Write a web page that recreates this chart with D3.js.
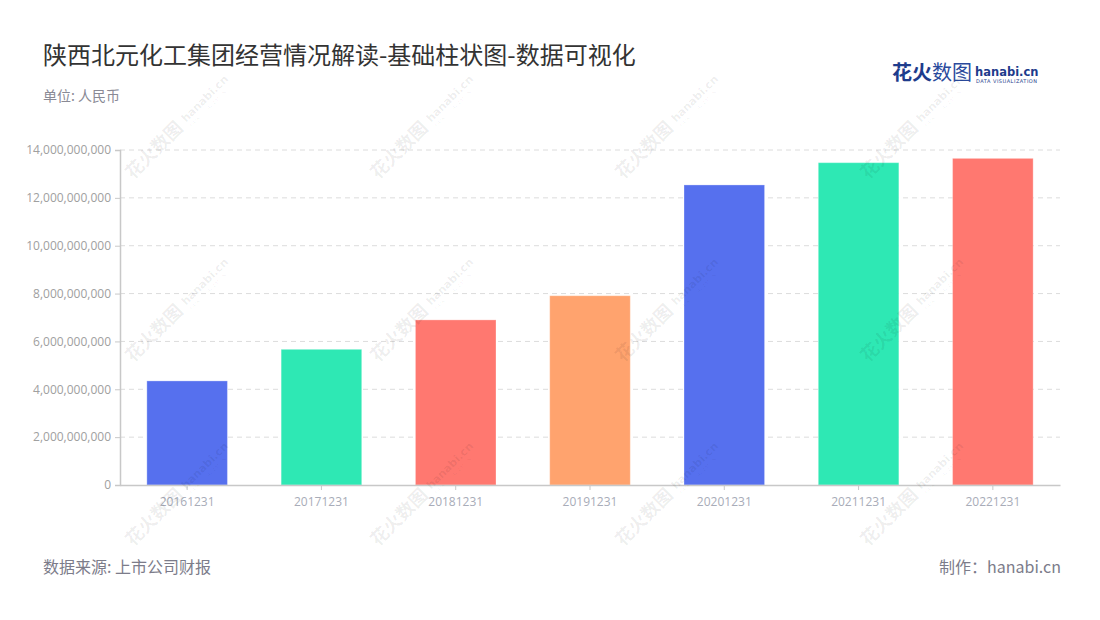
<!DOCTYPE html>
<html><head><meta charset="utf-8">
<script src="https://cdn.jsdelivr.net/npm/d3@7"></script>
<style>
html,body{margin:0;padding:0;background:#fff;}
svg{display:block;font-family:"Noto Sans CJK SC","Noto Sans",sans-serif;}
</style></head>
<body>
<svg id="chart" width="1100" height="620"></svg>
<script>
const categories = ["20161231","20171231","20181231","20191231","20201231","20211231","20221231"];
const values = [4350000000, 5670000000, 6900000000, 7910000000, 12540000000, 13470000000, 13650000000];
const yTicks = [0, 2000000000, 4000000000, 6000000000, 8000000000, 10000000000, 12000000000, 14000000000];
const palette = ["#5670ee", "#2ee8b4", "#ff7870", "#ffa36e"];

const svg = d3.select("#chart");
const margin = {left:120, right:1060, top:150, bottom:485};

const x = d3.scaleBand().domain(categories).range([margin.left, margin.right]).paddingInner(0.4).paddingOuter(0.2);
const y = d3.scaleLinear().domain([0, 14000000000]).range([margin.bottom, margin.top]);

// grid
svg.append("g").selectAll("line").data(yTicks.filter(d=>d>0)).join("line")
  .attr("x1", margin.left).attr("x2", margin.right)
  .attr("y1", d=>y(d)).attr("y2", d=>y(d))
  .attr("stroke","#dcdcdc").attr("stroke-dasharray","5,4");

// bars
svg.append("g").selectAll("rect").data(values).join("rect")
  .attr("x",(d,i)=>x(categories[i]))
  .attr("y",d=>y(d))
  .attr("width",x.bandwidth())
  .attr("height",d=>y(0)-y(d))
  .attr("fill",(d,i)=>palette[i%4])
  .attr("stroke","#fff").attr("stroke-opacity",0.3).attr("stroke-width",1);

// y axis
const yAxis = svg.append("g").attr("transform",`translate(${margin.left},0)`)
  .call(d3.axisLeft(y).tickValues(yTicks).tickFormat(d3.format(",")).tickSize(5).tickPadding(4));
yAxis.select(".domain").attr("stroke","#c8c8c8").attr("stroke-width",1.5);
yAxis.selectAll(".tick line").attr("stroke","#c8c8c8");
yAxis.selectAll("text").attr("fill","#a0a0a0").attr("font-size",12).attr("font-family","Open Sans, Noto Sans, sans-serif");

// x axis
const xAxis = svg.append("g").attr("transform",`translate(0,${margin.bottom})`)
  .call(d3.axisBottom(x).tickSize(5).tickPadding(7).tickSizeOuter(0));
xAxis.select(".domain").attr("stroke","#c8c8c8").attr("stroke-width",1.5);
xAxis.selectAll(".tick line").attr("stroke","#c8c8c8");
xAxis.selectAll("text").attr("fill","#a8acb8").attr("font-size",12).attr("font-family","Open Sans, Noto Sans, sans-serif");

// title
svg.append("text").attr("x",43).attr("y",64).attr("font-size",24).attr("fill","#333").text("陕西北元化工集团经营情况解读-基础柱状图-数据可视化");
svg.append("text").attr("x",43).attr("y",101).attr("font-size",14).attr("fill","#8a8a95").text("单位: 人民币");

// footer
svg.append("text").attr("x",43).attr("y",573).attr("font-size",16).attr("fill","#7c7c8a").text("数据来源: 上市公司财报");
svg.append("text").attr("x",1061).attr("y",573).attr("text-anchor","end").attr("font-size",16).attr("fill","#7c7c8a").text("制作：hanabi.cn");

// logo
svg.append("text").attr("x",892).attr("y",80).attr("font-size",20).attr("font-weight","bold").attr("fill","#1e3c8c").text("花火");
svg.append("text").attr("x",932).attr("y",80).attr("font-size",20).attr("fill","#2a4a9c").text("数图");
svg.append("text").attr("x",975).attr("y",76).attr("font-size",11.5).attr("font-weight","bold").attr("fill","#1e3c8c").attr("font-family","Verdana, DejaVu Sans, sans-serif").text("hanabi.cn");
svg.append("text").attr("x",976).attr("y",83).attr("font-size",5).attr("fill","#1e3c8c").attr("font-family","DejaVu Sans, sans-serif").attr("letter-spacing",0.5).text("DATA VISUALIZATION");

// watermark (overlay)
const wm = svg.append("g").attr("fill","#000").attr("fill-opacity",0.07).attr("pointer-events","none");
const wmCols = [133, 378, 623, 868], wmRows = [180, 363, 547];
wmRows.forEach(ry => wmCols.forEach(cx => {
  const g = wm.append("g").attr("transform",`translate(${cx},${ry}) rotate(-45)`);
  g.append("text").attr("x",0).attr("y",0).attr("font-size",18).attr("font-weight","bold").text("花火数图");
  g.append("text").attr("x",78).attr("y",-3).attr("font-size",11).attr("font-weight","bold").attr("font-family","Verdana, DejaVu Sans, sans-serif").text("hanabi.cn");
  g.append("text").attr("x",79).attr("y",4).attr("font-size",4).attr("font-family","DejaVu Sans, sans-serif").attr("letter-spacing",0.4).text("DATA VISUALIZATION");
}));
</script>
</body></html>
